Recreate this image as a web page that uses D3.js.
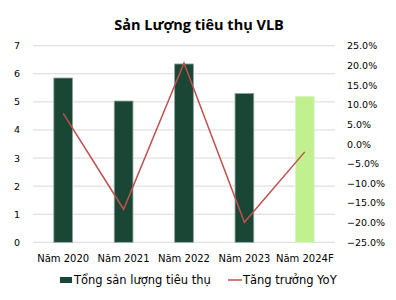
<!DOCTYPE html>
<html>
<head>
<meta charset="utf-8">
<script src="https://cdn.jsdelivr.net/npm/d3@7"></script>
<style>
  body { margin: 0; background: #fff; }
  text { font-family: "DejaVu Sans", sans-serif; fill: #000; }
</style>
</head>
<body>
<div class="canvas"></div>
<script>
// du lieu doc tu hinh
const categories = ['Năm 2020', 'Năm 2021', 'Năm 2022', 'Năm 2023', 'Năm 2024F'];
const volume = [5.85, 5.03, 6.35, 5.30, 5.19];
const yoy = [0.078, -0.166, 0.206, -0.199, -0.02];
const leftTicks = [0, 1, 2, 3, 4, 5, 6, 7];
const rightTicks = [-0.25, -0.2, -0.15, -0.1, -0.05, 0, 0.05, 0.1, 0.15, 0.2, 0.25];

const dims = { width: 396, height: 300 };
const plot = { left: 33, right: 335, top: 45.7, bottom: 242.3 };

const svg = d3.select('.canvas')
    .append('svg')
    .attr('width', dims.width)
    .attr('height', dims.height);

const x = d3.scaleBand()
    .domain(categories)
    .range([plot.left, plot.right])
    .paddingInner(0.69)
    .paddingOuter(0.345);

const y = d3.scaleLinear().domain([0, 7]).range([plot.bottom, plot.top]);
const y2 = d3.scaleLinear().domain([-0.25, 0.25]).range([plot.bottom, plot.top]);

// gridlines
svg.append('g')
    .selectAll('line')
    .data(leftTicks)
    .enter()
    .append('line')
    .attr('x1', plot.left)
    .attr('x2', plot.right)
    .attr('y1', d => y(d))
    .attr('y2', d => y(d))
    .attr('stroke', '#d9d9d9')
    .attr('stroke-width', 1);

// title
svg.append('text')
    .attr('x', 199)
    .attr('y', 30)
    .attr('text-anchor', 'middle')
    .style('font-family', '"Open Sans", sans-serif')
    .style('font-weight', 'bold')
    .style('font-size', '14.5px')
    .text('Sản Lượng tiêu thụ VLB');

// left axis labels
svg.append('g')
    .selectAll('text')
    .data(leftTicks)
    .enter()
    .append('text')
    .attr('x', 20)
    .attr('y', d => y(d) + 3.5)
    .attr('text-anchor', 'end')
    .style('font-size', '9.5px')
    .text(d => d);

// right axis labels
const pct = d3.format('.1%');
svg.append('g')
    .selectAll('text')
    .data(rightTicks)
    .enter()
    .append('text')
    .attr('x', 347)
    .attr('y', d => y2(d) + 3.5)
    .style('font-size', '9.5px')
    .text(d => pct(d));

// bars
svg.append('g')
    .selectAll('rect')
    .data(volume)
    .enter()
    .append('rect')
    .attr('x', (d, i) => x(categories[i]))
    .attr('width', x.bandwidth())
    .attr('y', d => y(d))
    .attr('height', d => y(0) - y(d))
    .attr('fill', (d, i) => i === 4 ? '#c0f090' : '#1a4636')
    .attr('stroke', (d, i) => i === 4 ? '#d8f5c4' : '#8fa39a')
    .attr('stroke-width', 0.8);

// category labels
svg.append('g')
    .selectAll('text')
    .data(categories)
    .enter()
    .append('text')
    .attr('x', d => x(d) + x.bandwidth() / 2)
    .attr('y', 262)
    .attr('text-anchor', 'middle')
    .style('font-size', '10px')
    .text(d => d);

// yoy line
const line = d3.line()
    .x((d, i) => x(categories[i]) + x.bandwidth() / 2)
    .y(d => y2(d));

svg.append('path')
    .datum(yoy)
    .attr('d', line)
    .attr('fill', 'none')
    .attr('stroke', '#c0504d')
    .attr('stroke-width', 1.5);

// legend
const legend = svg.append('g');
legend.append('rect')
    .attr('x', 60).attr('y', 277)
    .attr('width', 12).attr('height', 6)
    .attr('fill', '#1a4636');
legend.append('text')
    .attr('x', 74).attr('y', 284)
    .style('font-size', '11.5px')
    .text('Tổng sản lượng tiêu thụ');
legend.append('line')
    .attr('x1', 228).attr('x2', 242)
    .attr('y1', 280).attr('y2', 280)
    .attr('stroke', '#c0504d')
    .attr('stroke-width', 1.5);
legend.append('text')
    .attr('x', 243).attr('y', 284)
    .style('font-size', '11.5px')
    .text('Tăng trưởng YoY');
</script>
</body>
</html>
